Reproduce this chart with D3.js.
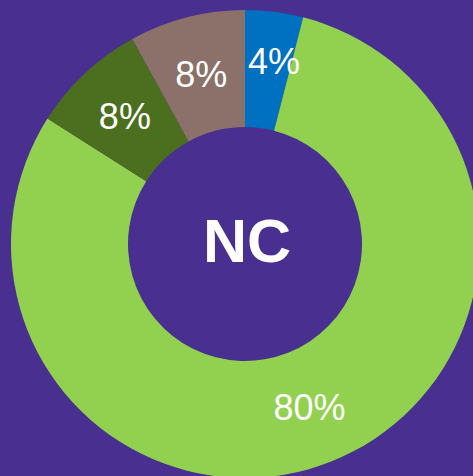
<!doctype html>
<html>
<head>
<meta charset="utf-8">
<style>
  body { margin: 0; background: #482F90; }
  svg { display: block; }
</style>
<script src="https://d3js.org/d3.v7.min.js"></script>
</head>
<body>
<svg width="473" height="476" id="chart"></svg>
<script>
    // slices, clockwise from 12 o'clock
    var categories = ["A", "B", "C", "D"];
    var values = [4, 80, 8, 8];
    var labels = ["4%", "80%", "8%", "8%"];
    var colors = ["#0070C0", "#92D050", "#4B6F1F", "#8B7169"];
    var centerText = "NC";

    var svg = d3.select("#chart"),
        cx = 245, cy = 244,
        outer = 234, inner = 117;

    svg.append("rect")
       .attr("width", 473).attr("height", 476)
       .attr("fill", "#482F90");

    var pie = d3.pie().sort(null).value(function(d) { return d; });
    var arc = d3.arc().innerRadius(inner).outerRadius(outer);

    var g = svg.append("g")
               .attr("transform", "translate(" + cx + "," + cy + ")");

    var slices = pie(values);

    g.selectAll("path")
     .data(slices)
     .enter().append("path")
     .attr("d", arc)
     .attr("fill", function(d, i) { return colors[i]; });

    // small nudge for the thin first slice label, like the original
    var nudge = [[7, -8], [0, 0], [0, 0], [0, 0]];

    g.selectAll("text.lbl")
     .data(slices)
     .enter().append("text")
     .attr("class", "lbl")
     .attr("x", function(d, i) { return arc.centroid(d)[0] + nudge[i][0]; })
     .attr("y", function(d, i) { return arc.centroid(d)[1] + nudge[i][1]; })
     .attr("text-anchor", "middle")
     .attr("dy", "0.35em")
     .attr("fill", "#fff")
     .attr("font-family", "'Liberation Sans', Arial, sans-serif")
     .attr("font-size", "36px")
     .text(function(d, i) { return labels[i]; });

    g.append("text")
     .attr("x", 2)
     .attr("y", -4)
     .attr("dy", "0.36em")
     .attr("text-anchor", "middle")
     .attr("fill", "#fff")
     .attr("font-family", "'Liberation Sans', Arial, sans-serif")
     .attr("font-weight", "bold")
     .attr("font-size", "61px")
     .text(centerText);
</script>
</body>
</html>
